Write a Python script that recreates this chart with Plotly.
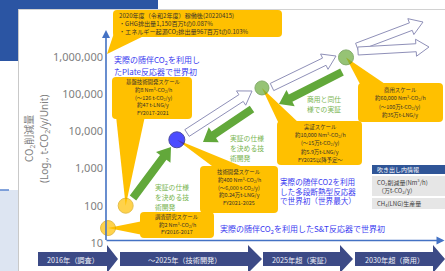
import math
import plotly.graph_objects as go

# ---------------- data ----------------
stage_names = ["調査研究スケール", "基盤技術開発スケール", "技術開発スケール", "実証スケール", "商用スケール"]
timeline_pos = [0.6, 5.8, 20.9, 46.0, 70.8]          # position along the time axis (0-100)
co2_reduction = [25, 100, 6000, 150000, 1000000]      # t-CO2/y (log axis)
point_fill = ["#ffc000", "#ffc000", "#0000ff", "#6aab3c", "#6aab3c"]
point_edge = ["#d9a300", "#d9a300", "#00007a", "#4f8a2c", "#4f8a2c"]
point_size = [15, 15, 16, 14, 15]

ytick_vals = [10, 100, 1000, 10000, 100000, 1000000]
ytick_text = ["10", "100", "1,000", "10,000", "100,000", "1,000,000"]

timeline_labels = ["2016年（調査）", "～2025年（技術開発）", "2025年超（実証）", "2030年超（商用）"]

# ---------------- geometry helpers ----------------
W, H = 445, 271
AXIS_X = 106.0
PX_PER_UNIT = (W - AXIS_X) / 100.0
Y6, DEC = 57.4, 37.08          # pixel of 1e6 and pixels per decade
LOG_TOP = 6 + Y6 / DEC
LOG_BOT = 6 - (H - Y6) / DEC
X_MIN = -AXIS_X / PX_PER_UNIT


def to_px(x, v):
    return AXIS_X + x * PX_PER_UNIT, Y6 + DEC * (6 - math.log10(v))


FONT = "Noto Sans, Noto Sans CJK JP, sans-serif"
JP = "Noto Sans CJK JP, Noto Sans, sans-serif"

shapes = []
annotations = []


def rect(x0, y0, x1, y1, fill, line=None, layer="below"):
    shapes.append(dict(type="rect", xref="x2", yref="y2", x0=x0, y0=y0, x1=x1, y1=y1,
                       fillcolor=fill, line=dict(width=0) if line is None else line, layer=layer))


def rrect(x0, y0, x1, y1, r, fill):
    p = (f"M{x0+r},{y0} L{x1-r},{y0} Q{x1},{y0} {x1},{y0+r} L{x1},{y1-r} Q{x1},{y1} {x1-r},{y1} "
         f"L{x0+r},{y1} Q{x0},{y1} {x0},{y1-r} L{x0},{y0+r} Q{x0},{y0} {x0+r},{y0} Z")
    shapes.append(dict(type="path", xref="x2", yref="y2", path=p, fillcolor=fill,
                       line=dict(width=0), layer="below"))


def poly(pts, fill, line=None, layer="below"):
    p = "M" + " L".join(f"{a:.2f},{b:.2f}" for a, b in pts) + " Z"
    shapes.append(dict(type="path", xref="x2", yref="y2", path=p, fillcolor=fill,
                       line=dict(width=0) if line is None else line, layer=layer))


def arrow(x1, y1, x2, y2, bw, hw, hl, fill, line=None):
    dx, dy = x2 - x1, y2 - y1
    L = math.hypot(dx, dy)
    ux, uy = dx / L, dy / L
    nx, ny = -uy, ux
    bx, by = x2 - ux * hl, y2 - uy * hl
    pts = [(x1 + nx * bw / 2, y1 + ny * bw / 2), (bx + nx * bw / 2, by + ny * bw / 2),
           (bx + nx * hw / 2, by + ny * hw / 2), (x2, y2),
           (bx - nx * hw / 2, by - ny * hw / 2), (bx - nx * bw / 2, by - ny * bw / 2),
           (x1 - nx * bw / 2, y1 - ny * bw / 2)]
    poly(pts, fill, line)


def text(t, x, y, size, color, xanchor="center", family=JP, angle=0, align="center"):
    annotations.append(dict(text=t, x=x, y=y, xref="x2", yref="y2", showarrow=False,
                            xanchor=xanchor, yanchor="middle", align=align, textangle=angle,
                            font=dict(size=size, color=color, family=family)))


def lines(ls, x, y0, dy, size, color, xanchor="center"):
    for i, t in enumerate(ls):
        text(t, x, y0 + i * dy, size, color, xanchor)


# ---------------- background ----------------
rect(0, 0, 158, 9.5, "#2b55a3")
rect(0, 0, 18, 61, "#2b55a3")
rect(0, 190, 18, H, "#dde5f2")
shapes.append(dict(type="line", xref="x2", yref="y2", x0=0, y0=190, x1=18, y1=190,
                   line=dict(color="#5b86d0", width=1.5, dash="dash"), layer="below"))
shapes.append(dict(type="line", xref="x2", yref="y2", x0=18.5, y0=9.5, x1=18.5, y1=H,
                   line=dict(color="#c9c9c9", width=1), layer="below"))
shapes.append(dict(type="line", xref="x2", yref="y2", x0=18.5, y0=9.5, x1=W, y1=9.5,
                   line=dict(color="#d2d2d2", width=1), layer="below"))

# ---------------- timeline chevrons ----------------
chev = [(38, 107, 118), (120, 248, 262), (263, 340, 353), (355, 433, 445)]
for (x0, xb, xt), lab in zip(chev, timeline_labels):
    poly([(x0, 252), (xb, 252), (xb, 245), (xt, 259), (xb, 273), (xb, 266), (x0, 266)], "#3c4a86")
    text(lab, (x0 + xb) / 2, 259.5, 7.2, "#eef0f8")

# ---------------- hollow arrows ----------------
hol = dict(color="#8f90b8", width=1)
arrow(187, 133, 252, 91, 8, 17, 13, "#ffffff", hol)
arrow(272, 87, 336, 56, 8, 17, 13, "#ffffff", hol)
arrow(357, 47, 423, 22, 8, 17, 13, "#ffffff", hol)
arrow(358, 51, 429, 47, 8, 17, 13, "#ffffff", hol)

# ---------------- green arrows ----------------
GR = "#62a83a"
arrow(133, 198, 171, 147, 8, 18, 13, GR)
arrow(252, 109, 203, 142, 8, 18, 13, GR)
arrow(342, 72, 279, 104, 8, 18, 13, GR)

# ---------------- callout boxes + pointers ----------------
pts = [to_px(x, v) for x, v in zip(timeline_pos, co2_reduction)]
YEL = "#ffc000"

rrect(113, 10, 282, 37, 4, YEL)
poly([(107, 54), (114, 33), (150, 33)], YEL)
rrect(112, 77, 192, 119, 4, YEL)
poly([pts[1], (116, 116), (145, 116)], YEL)
rrect(200, 166, 278, 213, 4, YEL)
poly([pts[2], (216, 169), (248, 169)], YEL)
rrect(140, 212, 214, 238, 4, YEL)
poly([pts[0], (143, 221), (143, 235)], YEL)
rrect(277, 121, 362, 165, 4, YEL)
poly([pts[3], (279, 124), (300, 124)], YEL)
rrect(358, 83, 443, 122, 4, YEL)
poly([pts[4], (361, 86), (388, 86)], YEL)

TX = "#3a3328"
BS = 5.4
lines(["2020年度（令和2年度）稼働後(20220415)",
       "・GHG排出量1,150百万tの0.087%",
       "・エネルギー起源CO<sub>2</sub>排出量967百万tの0.103%"], 117, 15, 8.3, 6.1, TX, "left")
lines(["基盤技術開発スケール", "約8 Nm<sup>3</sup>-CO<sub>2</sub>/h", "(～126 t-CO<sub>2</sub>/y)",
       "約47 t-LNG/y", "FY2017-2021"], 153, 82, 7.8, BS, TX)
lines(["技術開発スケール", "約400 Nm<sup>3</sup>-CO<sub>2</sub>/h", "(～6,000 t-CO<sub>2</sub>/y)",
       "約0.24万t-LNG/y", "FY2021-2025"], 239, 172, 7.8, BS, TX)
lines(["調査研究スケール", "約2 Nm<sup>3</sup>-CO<sub>2</sub>/h", "FY2016-2017"], 177, 217, 7.6, BS, TX)
lines(["実証スケール", "約10,000 Nm<sup>3</sup>-CO<sub>2</sub>/h", "(～15万t-CO<sub>2</sub>/y)",
       "約5.9万t-LNG/y", "FY2025以降予定～"], 320, 127, 8.2, BS, TX)
lines(["商用スケール", "約60,000 Nm<sup>3</sup>-CO<sub>2</sub>/h", "(～100万t-CO<sub>2</sub>/y)",
       "約35万t-LNG/y"], 400, 90, 8.3, BS, TX)

# ---------------- blue / green annotations ----------------
BL = "#3a3af0"
lines(["実際の随伴CO<sub>2</sub>を利用し", "たPlate反応器で世界初"], 112, 60, 11, 8.0, BL, "left")
lines(["実際の随伴CO2を利用", "した多段断熱型反応器", "で世界初（世界最大）"], 278, 181.5, 9.6, 7.6, BL, "left")
text("実際の随伴CO<sub>2</sub>を利用したS&amp;T反応器で世界初", 218, 229.5, 8.0, BL, "left")

GT = "#79b552"
lines(["実証の仕様", "を決める技", "術開発"], 228, 138, 10, 6.8, GT, "left")
lines(["実証の仕様", "を決める技", "術開発"], 153, 187, 10, 6.8, GT, "left")
lines(["商用と同仕", "様での実証"], 305, 99, 10, 6.8, GT, "left")

# ---------------- legend table ----------------
rect(372, 165, W, 174, "#2f5597")
text("吹き出し内情報", 375, 169.5, 6.0, "#ffffff", "left")
rect(372, 176, W, 196, "#e6e6e6")
text("CO<sub>2</sub>削減量(Nm<sup>3</sup>/h)", 375, 182, 6.0, "#404040", "left")
text("（万t-CO<sub>2</sub>/y）", 376, 190, 6.0, "#404040", "left")
rect(372, 198, W, 209, "#e6e6e6")
text("CH<sub>4</sub>(LNG)生産量", 375, 203.5, 6.0, "#404040", "left")

# ---------------- axis title ----------------
text("CO<sub>2</sub>削減量", 29, 139, 10.0, "#808080", angle=-90)
text("(Log., t-CO<sub>2</sub>/y/Unit)", 44, 139, 10.0, "#808080", angle=-90, family=FONT)

# ---------------- axes arrows ----------------
AXC = "#4472c4"
x_axis_y = to_px(0, 10 ** 1.062)[1]
annotations.append(dict(x=AXIS_X, y=30, xref="x2", yref="y2", ax=AXIS_X, ay=x_axis_y + 1,
                        axref="x2", ayref="y2", showarrow=True, arrowhead=2, arrowsize=1,
                        arrowwidth=1.6, arrowcolor=AXC, text=""))
annotations.append(dict(x=W - 0.5, y=x_axis_y, xref="x2", yref="y2", ax=AXIS_X - 1, ay=x_axis_y,
                        axref="x2", ayref="y2", showarrow=True, arrowhead=2, arrowsize=1,
                        arrowwidth=1.6, arrowcolor=AXC, text=""))

# ---------------- figure ----------------
fig = go.Figure()
fig.add_trace(go.Scatter(x=[None], y=[None], xaxis="x2", yaxis="y2", showlegend=False, hoverinfo="skip"))
fig.add_trace(go.Scatter(
    x=timeline_pos, y=co2_reduction, mode="markers", text=stage_names,
    marker=dict(size=point_size, color=point_fill, line=dict(color=point_edge, width=1)),
    showlegend=False, hovertemplate="%{text}: %{y}<extra></extra>"))

fig.update_layout(
    width=W, height=H, margin=dict(l=0, r=0, t=0, b=0),
    paper_bgcolor="#ffffff", plot_bgcolor="rgba(0,0,0,0)",
    xaxis=dict(range=[X_MIN, 100], visible=False, domain=[0, 1], fixedrange=True),
    yaxis=dict(type="log", range=[LOG_BOT, LOG_TOP], domain=[0, 1], anchor="free",
               position=AXIS_X / W, showline=False, showgrid=False, zeroline=False, ticks="",
               tickvals=ytick_vals, ticktext=ytick_text, ticklabelstandoff=3,
               tickfont=dict(size=11, color="#808080", family=FONT), fixedrange=True),
    xaxis2=dict(range=[0, W], visible=False, overlaying="x", anchor="y2", fixedrange=True),
    yaxis2=dict(range=[H, 0], visible=False, overlaying="y", anchor="x2", fixedrange=True),
    shapes=shapes, annotations=annotations, showlegend=False,
)

fig.write_html("out.html", config={"displayModeBar": False},
               post_script="document.body.style.margin='0';document.body.style.overflow='hidden';")
